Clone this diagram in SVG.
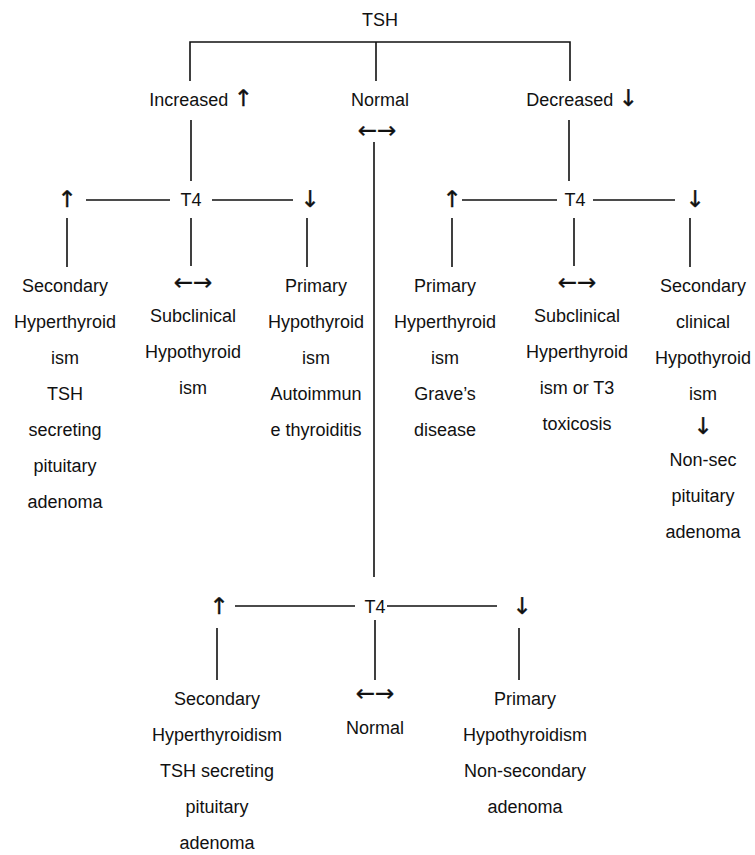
<svg xmlns="http://www.w3.org/2000/svg" width="755" height="855" viewBox="0 0 755 855">
  <style>
    text { font-family: "Liberation Sans", "DejaVu Sans", sans-serif; font-size: 18px; fill: #111; text-anchor: middle; }
    .arr { font-family: "DejaVu Sans", sans-serif; font-size: 23px; fill: #111; stroke: #111; stroke-width: 0.35; }
    .ln { stroke: #111; stroke-width: 1.6; fill: none; }
  </style>
  <rect width="755" height="855" fill="#fff"/>

  <g id="connectors">
    <path class="ln" d="M190 81 V42 H570 V81 M376 42 V81"/>
    <path class="ln" d="M191 120 V181 M569 120 V181 M374 142 V577"/>
    <!-- left T4 row -->
    <path class="ln" d="M86 200 H170 M212 200 H293"/>
    <path class="ln" d="M67 218 V267 M191 218 V266 M307 218 V267"/>
    <!-- right T4 row -->
    <path class="ln" d="M462 200 H557 M593 200 H675"/>
    <path class="ln" d="M452 218 V267 M574 218 V266 M690 218 V267"/>
    <!-- bottom T4 row -->
    <path class="ln" d="M235 606 H355 M387 606 H497"/>
    <path class="ln" d="M217 628 V680 M375 620 V680 M519 628 V680"/>
  </g>

  <g id="tsh"><text x="380" y="26">TSH</text></g>
  <g id="increased"><text x="201" y="106">Increased <tspan class="arr">↑</tspan></text></g>
  <g id="normal"><text x="380" y="106">Normal</text><text class="arr" x="377" y="138">←→</text></g>
  <g id="decreased"><text x="582" y="106">Decreased <tspan class="arr">↓</tspan></text></g>

  <!-- increased TSH branch -->
  <g id="t4-left"><text x="191" y="206">T4</text><text class="arr" x="67" y="207">↑</text><text class="arr" x="310" y="207">↓</text></g>
  <g id="sec-hyper">
    <text x="65" y="292">Secondary</text>
    <text x="65" y="328">Hyperthyroid</text>
    <text x="65" y="364">ism</text>
    <text x="65" y="400">TSH</text>
    <text x="65" y="436">secreting</text>
    <text x="65" y="472">pituitary</text>
    <text x="65" y="508">adenoma</text>
  </g>
  <g id="subclin-hypo">
    <text class="arr" x="193" y="290">←→</text>
    <text x="193" y="322">Subclinical</text>
    <text x="193" y="358">Hypothyroid</text>
    <text x="193" y="394">ism</text>
  </g>
  <g id="prim-hypo">
    <text x="316" y="292">Primary</text>
    <text x="316" y="328">Hypothyroid</text>
    <text x="316" y="364">ism</text>
    <text x="316" y="400">Autoimmun</text>
    <text x="316" y="436">e thyroiditis</text>
  </g>

  <!-- decreased TSH branch -->
  <g id="t4-right"><text x="575" y="206">T4</text><text class="arr" x="452" y="207">↑</text><text class="arr" x="695" y="207">↓</text></g>
  <g id="prim-hyper">
    <text x="445" y="292">Primary</text>
    <text x="445" y="328">Hyperthyroid</text>
    <text x="445" y="364">ism</text>
    <text x="445" y="400">Grave’s</text>
    <text x="445" y="436">disease</text>
  </g>
  <g id="subclin-hyper">
    <text class="arr" x="577" y="290">←→</text>
    <text x="577" y="322">Subclinical</text>
    <text x="577" y="358">Hyperthyroid</text>
    <text x="577" y="394">ism or T3</text>
    <text x="577" y="430">toxicosis</text>
  </g>
  <g id="sec-hypo">
    <text x="703" y="292">Secondary</text>
    <text x="703" y="328">clinical</text>
    <text x="703" y="364">Hypothyroid</text>
    <text x="703" y="400">ism</text>
    <text class="arr" x="703" y="434">↓</text>
    <text x="703" y="466">Non-sec</text>
    <text x="703" y="502">pituitary</text>
    <text x="703" y="538">adenoma</text>
  </g>

  <!-- normal TSH branch -->
  <g id="t4-bottom"><text x="375" y="613">T4</text><text class="arr" x="219" y="614">↑</text><text class="arr" x="522" y="614">↓</text></g>
  <g id="sec-hyper-2">
    <text x="217" y="705">Secondary</text>
    <text x="217" y="741">Hyperthyroidism</text>
    <text x="217" y="777">TSH secreting</text>
    <text x="217" y="813">pituitary</text>
    <text x="217" y="849">adenoma</text>
  </g>
  <g id="euthyroid">
    <text class="arr" x="375" y="701">←→</text>
    <text x="375" y="734">Normal</text>
  </g>
  <g id="prim-hypo-2">
    <text x="525" y="705">Primary</text>
    <text x="525" y="741">Hypothyroidism</text>
    <text x="525" y="777">Non-secondary</text>
    <text x="525" y="813">adenoma</text>
  </g>
</svg>
